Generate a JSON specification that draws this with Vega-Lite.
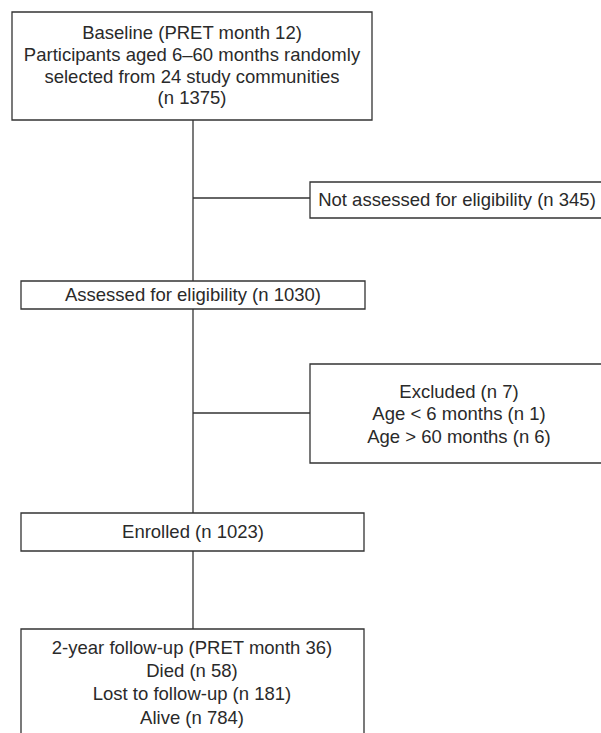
{
  "$schema": "https://vega.github.io/schema/vega-lite/v6.json",
  "width": 601,
  "height": 733,
  "padding": 0,
  "autosize": {"type": "fit", "contains": "padding"},
  "background": "white",
  "config": {"view": {"stroke": null}},
  "datasets": {
    "boxes": [
      {"box": "baseline", "x1": 12, "x2": 372, "y1": 12, "y2": 120},
      {"box": "notassessed", "x1": 310, "x2": 605, "y1": 182, "y2": 218},
      {"box": "assessed", "x1": 21, "x2": 365, "y1": 281, "y2": 309},
      {"box": "excluded", "x1": 310, "x2": 605, "y1": 364, "y2": 463},
      {"box": "enrolled", "x1": 21, "x2": 364, "y1": 513, "y2": 551},
      {"box": "followup", "x1": 21, "x2": 364, "y1": 629, "y2": 745}
    ],
    "links": [
      {"x1": 193, "x2": 193, "y1": 120, "y2": 281},
      {"x1": 193, "x2": 310, "y1": 198, "y2": 198},
      {"x1": 193, "x2": 193, "y1": 309, "y2": 513},
      {"x1": 193, "x2": 310, "y1": 413, "y2": 413},
      {"x1": 193, "x2": 193, "y1": 551, "y2": 629}
    ],
    "labels": [
      {"x": 192, "y": 33, "text": "Baseline (PRET month 12)"},
      {"x": 192, "y": 55, "text": "Participants aged 6–60 months randomly"},
      {"x": 192, "y": 77, "text": "selected from 24 study communities"},
      {"x": 192, "y": 98, "text": "(n 1375)"},
      {"x": 457, "y": 200, "text": "Not assessed for eligibility (n 345)"},
      {"x": 193, "y": 295, "text": "Assessed for eligibility (n 1030)"},
      {"x": 459, "y": 392, "text": "Excluded (n 7)"},
      {"x": 459, "y": 414, "text": "Age < 6 months (n 1)"},
      {"x": 459, "y": 437, "text": "Age > 60 months (n 6)"},
      {"x": 193, "y": 532, "text": "Enrolled (n 1023)"},
      {"x": 192, "y": 648, "text": "2-year follow-up (PRET month 36)"},
      {"x": 192, "y": 671, "text": "Died (n 58)"},
      {"x": 192, "y": 694, "text": "Lost to follow-up (n 181)"},
      {"x": 192, "y": 718, "text": "Alive (n 784)"}
    ]
  },
  "layer": [
    {
      "data": {"name": "links"},
      "mark": {"type": "rule", "stroke": "#333333", "strokeWidth": 1.3},
      "encoding": {
        "x": {"field": "x1", "type": "quantitative", "scale": {"domain": [0, 601], "nice": false, "zero": false}, "axis": null},
        "x2": {"field": "x2"},
        "y": {"field": "y1", "type": "quantitative", "scale": {"domain": [0, 733], "reverse": true, "nice": false, "zero": false}, "axis": null},
        "y2": {"field": "y2"}
      }
    },
    {
      "data": {"name": "boxes"},
      "mark": {"type": "rect", "fill": "white", "stroke": "#333333", "strokeWidth": 1.3, "clip": true},
      "encoding": {
        "x": {"field": "x1", "type": "quantitative", "scale": {"domain": [0, 601], "nice": false, "zero": false}, "axis": null},
        "x2": {"field": "x2"},
        "y": {"field": "y1", "type": "quantitative", "scale": {"domain": [0, 733], "reverse": true, "nice": false, "zero": false}, "axis": null},
        "y2": {"field": "y2"}
      }
    },
    {
      "data": {"name": "labels"},
      "mark": {"type": "text", "font": "Liberation Sans", "fontSize": 18.5, "color": "#2a2a2a", "align": "center", "baseline": "middle"},
      "encoding": {
        "x": {"field": "x", "type": "quantitative", "scale": {"domain": [0, 601], "nice": false, "zero": false}, "axis": null},
        "y": {"field": "y", "type": "quantitative", "scale": {"domain": [0, 733], "reverse": true, "nice": false, "zero": false}, "axis": null},
        "text": {"field": "text"}
      }
    }
  ]
}
